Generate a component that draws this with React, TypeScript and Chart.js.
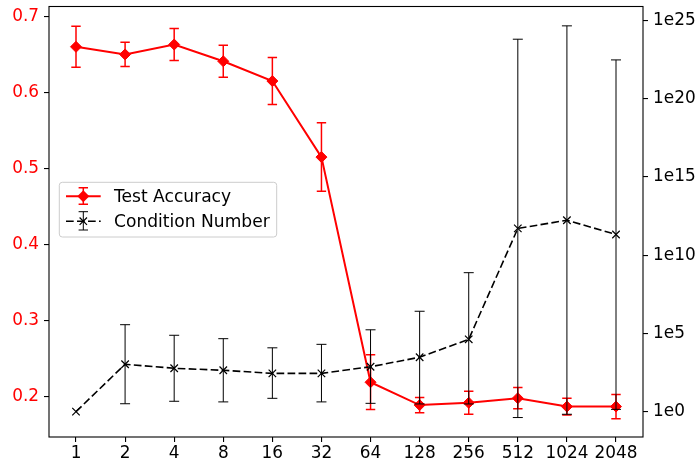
import React, { useEffect, useRef } from "react";
import { Chart, registerables } from "chart.js";
Chart.register(...registerables);

const xLabels = ["1", "2", "4", "8", "16", "32", "64", "128", "256", "512", "1024", "2048"];
const accMean = [0.66, 0.65, 0.663, 0.641, 0.615, 0.515, 0.219, 0.189, 0.192, 0.198, 0.187, 0.187];
const accErr = [0.027, 0.016, 0.021, 0.021, 0.031, 0.045, 0.036, 0.01, 0.015, 0.014, 0.011, 0.016];
const condMean = [1, 1.07e3, 5.9e2, 4.4e2, 2.8e2, 2.8e2, 7.4e2, 3.0e3, 4.2e4, 5.1e11, 1.7e12, 2.1e11];
const condUpper = [1, 3.6e5, 7.6e4, 4.6e4, 1.2e4, 2.0e4, 1.7e5, 2.6e6, 7.6e8, 6.3e23, 4.5e24, 3.0e22];
const condLower = [1, 3.2, 4.6, 4.2, 7.1, 4.2, 3.4, 3.1, 3.1, 0.42, 0.68, 1.4];
const accTicks = [0.2, 0.3, 0.4, 0.5, 0.6, 0.7];
const condTickExps = [0, 5, 10, 15, 20, 25];
const legendNames = ["Test Accuracy", "Condition Number"];

const FONT = "'DejaVu Sans'";
const FS = 16.9;
const LFS = 17.1;

const errorBarPlugin = {
  id: "errorBars",
  beforeDatasetDraw(chart: any, args: any) {
    const ds = chart.data.datasets[args.index];
    if (!ds.errLow) return;
    const meta = args.meta;
    const xs = chart.scales[meta.xAxisID];
    const ys = chart.scales[meta.yAxisID];
    const ctx = chart.ctx;
    const a = chart.chartArea;
    ctx.save();
    ctx.beginPath();
    ctx.rect(a.left, a.top, a.right - a.left, a.bottom - a.top);
    ctx.clip();
    ctx.strokeStyle = ds.errColor;
    ctx.lineWidth = ds.errWidth;
    const cap = ds.errCap;
    ds.data.forEach((p: any, i: number) => {
      const x = xs.getPixelForValue(p.x);
      const lo = ys.getPixelForValue(ds.errLow[i]);
      const hi = ys.getPixelForValue(ds.errHigh[i]);
      if (Math.abs(lo - hi) < 0.5) return;
      ctx.beginPath();
      ctx.moveTo(x, lo);
      ctx.lineTo(x, hi);
      ctx.moveTo(x - cap, lo);
      ctx.lineTo(x + cap, lo);
      ctx.moveTo(x - cap, hi);
      ctx.lineTo(x + cap, hi);
      ctx.stroke();
    });
    ctx.restore();
  },
};

const framePlugin = {
  id: "frame",
  afterDraw(chart: any) {
    const ctx = chart.ctx;
    const a = chart.chartArea;
    ctx.save();
    ctx.strokeStyle = "#000";
    ctx.lineWidth = 1.1;
    ctx.strokeRect(a.left, a.top, a.right - a.left, a.bottom - a.top);

    // legend
    const lx = 59.3, ly = 182.3, lw = 217.4, lh = 54.7;
    ctx.beginPath();
    (ctx as any).roundRect(lx, ly, lw, lh, 3);
    ctx.fillStyle = "rgba(255,255,255,0.8)";
    ctx.fill();
    ctx.strokeStyle = "#cccccc";
    ctx.lineWidth = 1;
    ctx.stroke();

    const rows = [
      { y: 196.2, color: "#ff0000", dash: [] as number[], lw: 2, errTop: 187.7, errBot: 204.3, errW: 1.5, marker: "diamond" },
      { y: 221.2, color: "#000000", dash: [7.7, 3.3], lw: 1.6, errTop: 211.7, errBot: 230, errW: 1, marker: "x" },
    ];
    rows.forEach((r, i) => {
      const cx = 83.3;
      ctx.strokeStyle = r.color;
      ctx.lineWidth = r.errW;
      ctx.setLineDash([]);
      ctx.beginPath();
      ctx.moveTo(cx, r.errTop);
      ctx.lineTo(cx, r.errBot);
      ctx.moveTo(cx - 4.7, r.errTop);
      ctx.lineTo(cx + 4.7, r.errTop);
      ctx.moveTo(cx - 4.7, r.errBot);
      ctx.lineTo(cx + 4.7, r.errBot);
      ctx.stroke();
      ctx.lineWidth = r.lw;
      ctx.setLineDash(r.dash);
      ctx.beginPath();
      ctx.moveTo(66, r.y);
      ctx.lineTo(100.7, r.y);
      ctx.stroke();
      ctx.setLineDash([]);
      if (r.marker === "diamond") {
        ctx.fillStyle = r.color;
        ctx.beginPath();
        ctx.moveTo(cx, r.y - 6);
        ctx.lineTo(cx + 6, r.y);
        ctx.lineTo(cx, r.y + 6);
        ctx.lineTo(cx - 6, r.y);
        ctx.closePath();
        ctx.fill();
      } else {
        ctx.lineWidth = 1.2;
        ctx.beginPath();
        ctx.moveTo(cx - 3.7, r.y - 3.7);
        ctx.lineTo(cx + 3.7, r.y + 3.7);
        ctx.moveTo(cx - 3.7, r.y + 3.7);
        ctx.lineTo(cx + 3.7, r.y - 3.7);
        ctx.stroke();
      }
      ctx.fillStyle = "#000";
      ctx.font = `${LFS}px ${FONT}`;
      ctx.textBaseline = "alphabetic";
      ctx.textAlign = "left";
      ctx.fillText(legendNames[i], 114, i === 0 ? 201.7 : 227.3);
    });
    ctx.restore();
  },
};

export default function App() {
  const ref = useRef<HTMLCanvasElement | null>(null);
  useEffect(() => {
    document.body.style.margin = "0";
    if (!ref.current) return;
    const zeroPad = (s: any) => {
      s.paddingTop = 0;
      s.paddingBottom = 0;
      s.paddingLeft = 0;
      s.paddingRight = 0;
    };
    const chart = new Chart(ref.current, {
      type: "line",
      data: {
        datasets: [
          {
            label: legendNames[0],
            data: accMean.map((v, i) => ({ x: i, y: v })),
            yAxisID: "y",
            xAxisID: "x",
            borderColor: "#ff0000",
            backgroundColor: "#ff0000",
            borderWidth: 2,
            pointStyle: "rectRot",
            pointRadius: 5.5,
            pointBorderWidth: 1,
            pointBorderColor: "#ff0000",
            pointBackgroundColor: "#ff0000",
            tension: 0,
            order: 1,
            errLow: accMean.map((v, i) => v - accErr[i]),
            errHigh: accMean.map((v, i) => v + accErr[i]),
            errColor: "#ff0000",
            errWidth: 1.5,
            errCap: 4.7,
          } as any,
          {
            label: legendNames[1],
            data: condMean.map((v, i) => ({ x: i, y: v })),
            yAxisID: "y2",
            xAxisID: "x",
            borderColor: "#000000",
            backgroundColor: "#000000",
            borderWidth: 1.6,
            borderDash: [7.7, 3.3],
            pointStyle: "crossRot",
            pointRadius: 5.3,
            pointBorderWidth: 1.2,
            pointBorderColor: "#000000",
            tension: 0,
            order: 0,
            errLow: condLower,
            errHigh: condUpper,
            errColor: "#000000",
            errWidth: 1,
            errCap: 5,
          } as any,
        ],
      },
      options: {
        animation: false,
        responsive: false,
        events: [],
        layout: { padding: { top: 6, left: 0, right: 0, bottom: 0 } },
        plugins: { legend: { display: false }, tooltip: { enabled: false } },
        scales: {
          x: {
            type: "linear",
            position: "bottom",
            min: -0.55,
            max: 11.55,
            afterBuildTicks: (s: any) => {
              s.ticks = xLabels.map((_, i) => ({ value: i }));
            },
            afterFit: (s: any) => {
              s.height = 29;
              zeroPad(s);
            },
            ticks: {
              autoSkip: false,
              maxRotation: 0,
              padding: 1,
              color: "#000",
              font: { family: "DejaVu Sans", size: FS },
              callback: (v: any) => xLabels[Math.round(v)] ?? "",
            },
            grid: { drawOnChartArea: false, drawTicks: true, tickLength: 5, color: "#000", lineWidth: 1.1 },
            border: { display: false },
          },
          y: {
            type: "linear",
            position: "left",
            min: 0.147,
            max: 0.713,
            afterBuildTicks: (s: any) => {
              s.ticks = accTicks.map((v) => ({ value: v }));
            },
            afterFit: (s: any) => {
              s.width = 49;
              zeroPad(s);
            },
            ticks: {
              padding: 5,
              color: "#ff0000",
              font: { family: "DejaVu Sans", size: FS },
              callback: (v: any) => Number(v).toFixed(1),
            },
            grid: { drawOnChartArea: false, drawTicks: true, tickLength: 5, color: "#000", lineWidth: 1.1 },
            border: { display: false },
          },
          y2: {
            type: "logarithmic",
            position: "right",
            min: Math.pow(10, -1.62),
            max: Math.pow(10, 25.89),
            afterBuildTicks: (s: any) => {
              s.ticks = condTickExps.map((e) => ({ value: Math.pow(10, e) }));
            },
            afterFit: (s: any) => {
              s.width = 55;
              zeroPad(s);
            },
            ticks: {
              padding: 5,
              color: "#000",
              font: { family: "DejaVu Sans", size: FS },
              callback: (v: any) => "1e" + Math.round(Math.log10(Number(v))),
            },
            grid: { drawOnChartArea: false, drawTicks: true, tickLength: 5, color: "#000", lineWidth: 1.1 },
            border: { display: false },
          },
        },
      } as any,
      plugins: [errorBarPlugin, framePlugin],
    });
    return () => chart.destroy();
  }, []);
  return (
    <div style={{ width: 698, height: 466, background: "#fff" }}>
      <canvas ref={ref} width={698} height={466} style={{ display: "block" }} />
    </div>
  );
}
